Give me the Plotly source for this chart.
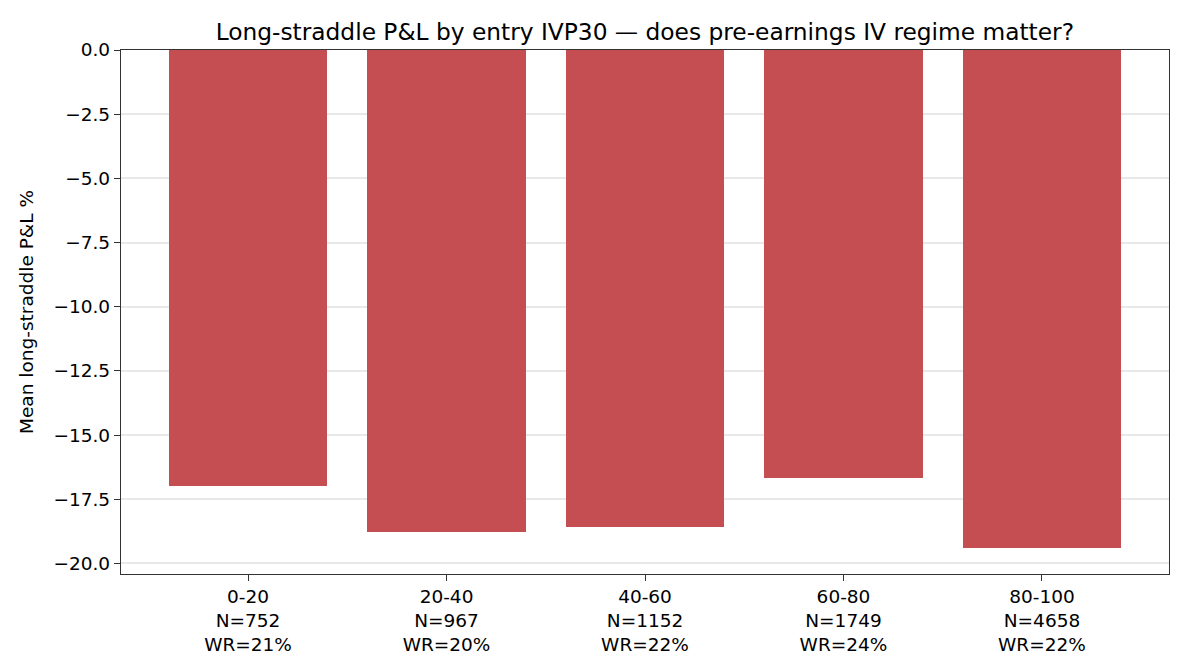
import plotly.graph_objects as go

# Data
bins = ["0-20", "20-40", "40-60", "60-80", "80-100"]
n_trades = [752, 967, 1152, 1749, 4658]
win_rate = [21, 20, 22, 24, 22]
mean_pnl = [-16.99, -18.78, -18.58, -16.67, -19.40]

tick_text = [f"{b}<br>N={n}<br>WR={w}%" for b, n, w in zip(bins, n_trades, win_rate)]
xpos = list(range(len(bins)))

FONT = "DejaVu Sans"
BAR_COLOR = "#C44E52"
AX_COLOR = "#333333"
TICK_SIZE = 18.5

fig = go.Figure()
fig.add_trace(go.Bar(
    x=xpos, y=mean_pnl, width=0.8,
    marker=dict(color=BAR_COLOR, line=dict(width=0)),
    showlegend=False,
))

fig.update_layout(
    width=1190, height=672,
    margin=dict(l=121, r=21, t=50, b=98),
    paper_bgcolor="white", plot_bgcolor="white",
    font=dict(family=FONT, size=TICK_SIZE, color="#000000"),
    title=dict(
        text="Long-straddle P&L by entry IVP30 — does pre-earnings IV regime matter?",
        font=dict(family=FONT, size=23.3, color="#000000"),
        x=(120.7 + 1169) / 2 / 1190, xanchor="center",
        xref="container", yref="container",
        y=(672 - 32) / 672, yanchor="middle",
    ),
    bargap=0,
)

fig.update_xaxes(
    range=[-0.64, 4.64],
    tickmode="array", tickvals=xpos, ticktext=tick_text,
    showgrid=False, zeroline=False,
    showline=True, linecolor=AX_COLOR, linewidth=1.3, mirror=True,
    ticks="outside", ticklen=6, tickwidth=1.3, tickcolor=AX_COLOR,
    tickfont=dict(family=FONT, size=TICK_SIZE, color="#000000"),
)

fig.update_yaxes(
    range=[-20.41, 0],
    tickmode="linear", tick0=0, dtick=2.5, tickformat=".1f",
    showgrid=True, gridcolor="#e8e8e8", gridwidth=1.6,
    zeroline=False,
    showline=True, linecolor=AX_COLOR, linewidth=1.3, mirror=True,
    ticks="outside", ticklen=6, tickwidth=1.3, tickcolor=AX_COLOR,
    tickfont=dict(family=FONT, size=TICK_SIZE, color="#000000"),
    title=dict(text="Mean long-straddle P&L %", font=dict(family=FONT, size=TICK_SIZE, color="#000000"), standoff=14),
)

fig.write_html("out.html")
